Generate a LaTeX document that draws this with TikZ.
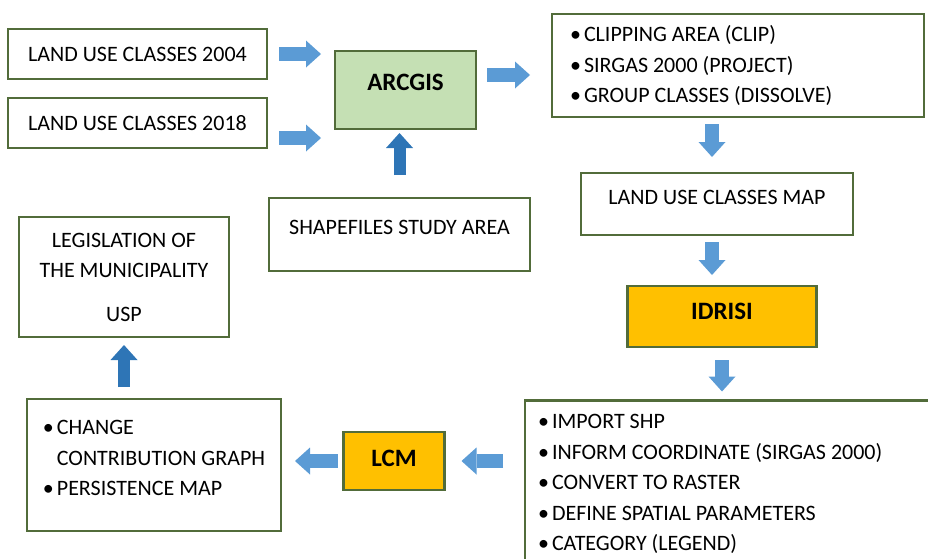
\documentclass[tikz,border=0pt]{standalone}
\usepackage{fontspec}
\setmainfont{Carlito}
\usetikzlibrary{arrows.meta}
\definecolor{boxline}{RGB}{82,108,58}
\definecolor{arcfill}{RGB}{197,224,180}
\definecolor{idrfill}{RGB}{255,192,0}
\definecolor{arrblue}{RGB}{91,155,213}
\definecolor{arrdark}{RGB}{46,117,182}
\newcommand{\itm}{\makebox[14pt][l]{\textbullet}}
\newcommand{\lowpad}[1]{\rule[-#1]{0pt}{#1}}

\begin{document}
\begin{tikzpicture}[x=1pt,y=-1pt,
    box/.style={draw=boxline,line width=2.4pt,inner sep=0pt,outer sep=0pt,
      font=\fontsize{22}{30.5}\selectfont},
    tool/.style={box,font=\fontsize{25}{30}\selectfont\bfseries},
    list/.style={box,align=flush left},
    barrow/.style={arrblue,line width=14pt,
      -{Triangle[length=15pt,width=27pt,line width=0pt]}},
    uarrow/.style={barrow,arrdark,line width=12pt}]
  \useasboundingbox (0,0) rectangle (928,558);
  % ARCGIS part
  \node[box,minimum width=259pt,minimum height=50pt] (lu04) at (137.5,54) {LAND USE CLASSES 2004};
  \node[box,minimum width=259pt,minimum height=50pt] (lu18) at (137.5,123) {LAND USE CLASSES 2018};
  \node[tool,fill=arcfill,minimum width=141pt,minimum height=78pt] (arcgis) at (405.5,90) {ARCGIS\lowpad{16pt}};
  \node[box,minimum width=261pt,minimum height=73pt] (shp) at (399.5,234.5) {SHAPEFILES STUDY AREA\lowpad{14pt}};
  \node[list,text width=336pt,inner xsep=18pt,minimum height=103pt] (clip) at (738,65.5)
    {\itm CLIPPING AREA (CLIP)\\ \itm SIRGAS 2000 (PROJECT)\\ \itm GROUP CLASSES (DISSOLVE)};
  \node[box,minimum width=272pt,minimum height=62pt] (lumap) at (717,204) {LAND USE CLASSES MAP\lowpad{14pt}};
  % IDRISI part
  \node[tool,fill=idrfill,minimum width=189pt,minimum height=61pt] (idrisi) at (722,316.5) {IDRISI\lowpad{10pt}};
  \node[list,text width=404pt,inner xsep=13pt,minimum height=167pt] (imp) at (740,484)
    {\itm IMPORT SHP\\ \itm INFORM COORDINATE (SIRGAS 2000)\\ \itm CONVERT TO RASTER\\
     \itm DEFINE SPATIAL PARAMETERS\\ \itm CATEGORY (LEGEND)};
  \node[tool,fill=idrfill,minimum width=101pt,minimum height=58pt] (lcm) at (394,461) {LCM\lowpad{6pt}};
  \node[list,minimum width=254pt,minimum height=132pt] (res) at (154,465)
    {\itm CHANGE\\ \hspace*{14pt}CONTRIBUTION GRAPH\\ \itm PERSISTENCE MAP\lowpad{14pt}};
  \node[box,align=center,minimum width=210pt,minimum height=120pt] (leg) at (124,277)
    {LEGISLATION OF\\ THE MUNICIPALITY\\[13pt] USP};
  % connectors
  \coordinate (in18) at ([yshift=-15pt]lu18.east);
  \coordinate (outarc) at ([yshift=15pt]arcgis.east);
  \coordinate (d1) at ([xshift=-5pt]lumap.north);
  \coordinate (d2) at ([xshift=-5pt]lumap.south);
  \draw[barrow,shorten <=12pt,shorten >=14pt] (lu04.east) -- (lu04.east -| arcgis.west);
  \draw[barrow,shorten <=12pt,shorten >=14pt] (in18) -- (in18 -| arcgis.west);
  \draw[barrow,shorten <=11pt,shorten >=22pt] (outarc) -- (outarc -| clip.west);
  \draw[uarrow,shorten <=23pt,shorten >=4pt] (shp.north) -- (shp.north |- arcgis.south);
  \draw[barrow,shorten <=7pt,shorten >=16pt] (d1 |- clip.south) -- (d1);
  \draw[barrow,shorten <=7pt,shorten >=11pt] (d2) -- (d2 |- idrisi.north);
  \draw[barrow,shorten <=13pt,shorten >=9pt] (idrisi.south) -- (idrisi.south |- imp.north);
  \draw[barrow,shorten <=22pt,shorten >=17pt] (lcm.east -| imp.west) -- (lcm.east);
  \draw[barrow,shorten <=6pt,shorten >=14pt] (lcm.west) -- (lcm.west -| res.east);
  \draw[uarrow,shorten <=12pt,shorten >=8pt] (leg.south |- res.north) -- (leg.south);
\end{tikzpicture}
\end{document}
